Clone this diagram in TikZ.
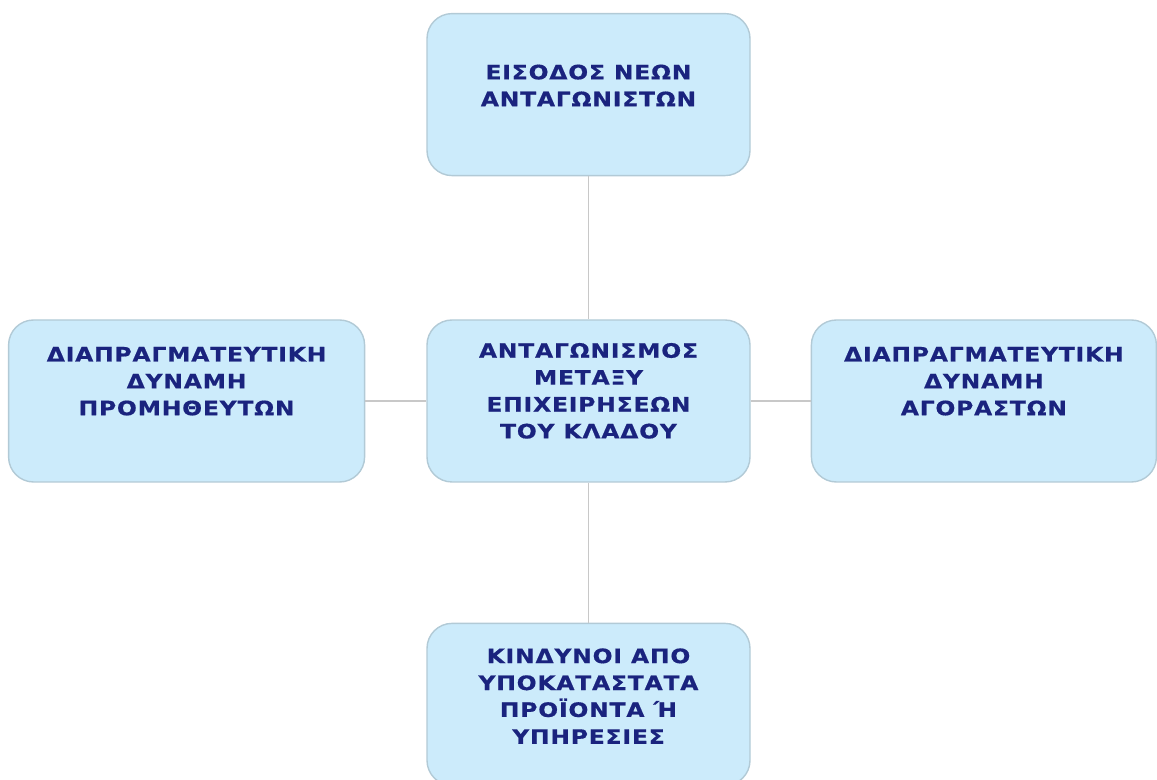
\documentclass[tikz,border=0pt]{standalone}
\usepackage{fontspec}
\setmainfont{DejaVu Sans}
\newfontfamily\forcefont[LetterSpace=4,FakeStretch=1.18,FakeBold=0.6]{DejaVu Sans}
\usetikzlibrary{positioning}
\definecolor{ForceFill}{HTML}{CCEBFB}
\definecolor{ForceLine}{HTML}{B2CAD6}
\definecolor{ForceText}{HTML}{1A237E}
\definecolor{ForceLink}{HTML}{C8C8C8}
\newcommand{\forcelines}[3]{\parbox[c][3.24cm][t]{#1}{\centering\vspace*{#2}#3}}

\begin{document}
\begin{tikzpicture}[
    force/.style={draw=ForceLine,line width=0.8pt,rounded corners=5mm,
      fill=ForceFill,inner sep=0pt,minimum width=6.46cm,minimum height=3.24cm,
      text=ForceText,font=\forcefont\bfseries\fontsize{11.3}{15.3}\selectfont},
    link/.style={draw=ForceLink,line width=1.1pt}
  ]
    \useasboundingbox (0,0) rectangle (23.14,-15.6);
    \node[force] (rivalry) at (11.77,-8.02)
      {\forcelines{6.2cm}{0.46cm}{ΑΝΤΑΓΩΝΙΣΜΟΣ\\ΜΕΤΑΞΥ\\ΕΠΙΧΕΙΡΗΣΕΩΝ\\ΤΟΥ ΚΛΑΔΟΥ}};
    \node[force,above=2.86cm of rivalry] (entrants)
      {\forcelines{6.2cm}{1.02cm}{ΕΙΣΟΔΟΣ ΝΕΩΝ\\ΑΝΤΑΓΩΝΙΣΤΩΝ}};
    \node[force,left=1.22cm of rivalry,minimum width=7.12cm] (suppliers)
      {\forcelines{6.9cm}{0.54cm}{ΔΙΑΠΡΑΓΜΑΤΕΥΤΙΚΗ\\ΔΥΝΑΜΗ\\ΠΡΟΜΗΘΕΥΤΩΝ}};
    \node[force,right=1.2cm of rivalry,minimum width=6.9cm] (buyers)
      {\forcelines{6.7cm}{0.54cm}{ΔΙΑΠΡΑΓΜΑΤΕΥΤΙΚΗ\\ΔΥΝΑΜΗ\\ΑΓΟΡΑΣΤΩΝ}};
    \node[force,below=2.8cm of rivalry] (substitutes)
      {\forcelines{6.2cm}{0.5cm}{ΚΙΝΔΥΝΟΙ ΑΠΟ\\ΥΠΟΚΑΤΑΣΤΑΤΑ\\ΠΡΟΪΟΝΤΑ Ή\\ΥΠΗΡΕΣΙΕΣ}};
    \draw[link] (entrants) -- (rivalry);
    \draw[link] (suppliers) -- (rivalry);
    \draw[link] (rivalry) -- (buyers);
    \draw[link] (rivalry) -- (substitutes);
  \end{tikzpicture}
\end{document}
